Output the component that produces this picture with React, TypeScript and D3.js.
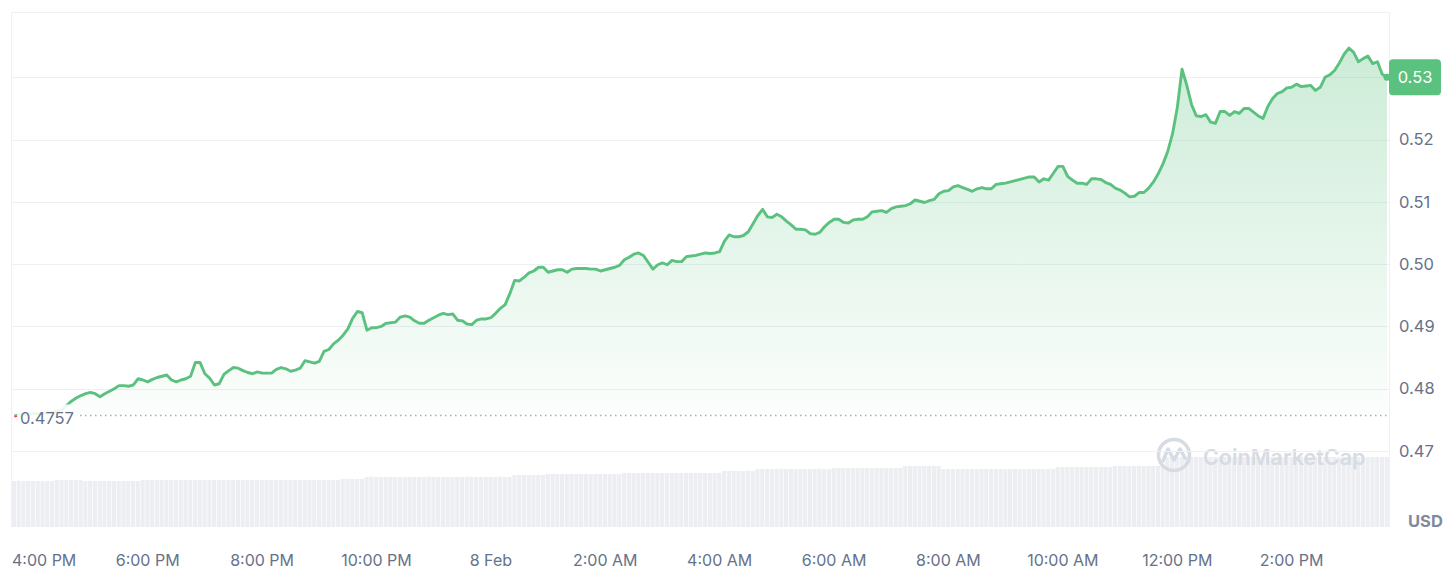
import { useEffect, useRef } from 'react';
import * as d3 from 'd3';

// 5-minute price samples, 7 Feb 15:40 -> 8 Feb 15:40
const startTime = new Date(2025, 1, 7, 15, 40);
const stepMinutes = 5;
const openPrice = 0.4757;

const prices = [
  0.4756, 0.4758, 0.4759, 0.4759, 0.4760, 0.4760, 0.4761, 0.4761, 0.4762, 0.4764, 0.4766, 0.4773,
  0.4780, 0.4785, 0.4789, 0.4792, 0.4794, 0.4792, 0.4787, 0.4792, 0.4796, 0.4800, 0.4805, 0.4805,
  0.4804, 0.4806, 0.4816, 0.4814, 0.4811, 0.4815, 0.4818, 0.4820, 0.4822, 0.4814, 0.4811, 0.4814,
  0.4816, 0.4820, 0.4842, 0.4842, 0.4824, 0.4817, 0.4806, 0.4808, 0.4823, 0.4829, 0.4834, 0.4833,
  0.4829, 0.4826, 0.4824, 0.4827, 0.4825, 0.4825, 0.4825, 0.4831, 0.4834, 0.4832, 0.4828, 0.4830,
  0.4833, 0.4845, 0.4843, 0.4841, 0.4844, 0.4860, 0.4863, 0.4872, 0.4878, 0.4886, 0.4896, 0.4913,
  0.4924, 0.4922, 0.4894, 0.4898, 0.4898, 0.4900, 0.4905, 0.4906, 0.4907, 0.4915, 0.4917, 0.4915,
  0.4909, 0.4905, 0.4905, 0.4910, 0.4914, 0.4918, 0.4921, 0.4919, 0.4920, 0.4910, 0.4909, 0.4904,
  0.4903, 0.4910, 0.4912, 0.4912, 0.4914, 0.4921, 0.4929, 0.4935, 0.4953, 0.4974, 0.4973, 0.4979,
  0.4986, 0.4989, 0.4995, 0.4995, 0.4987, 0.4989, 0.4991, 0.4991, 0.4987, 0.4992, 0.4993, 0.4993,
  0.4993, 0.4992, 0.4992, 0.4989, 0.4991, 0.4993, 0.4995, 0.4998, 0.5007, 0.5011, 0.5016, 0.5018,
  0.5014, 0.5003, 0.4992, 0.4999, 0.5002, 0.4999, 0.5006, 0.5004, 0.5004, 0.5012, 0.5013, 0.5014,
  0.5016, 0.5018, 0.5017, 0.5018, 0.5020, 0.5037, 0.5047, 0.5044, 0.5044, 0.5046, 0.5052, 0.5065,
  0.5078, 0.5088, 0.5076, 0.5075, 0.5080, 0.5076, 0.5069, 0.5063, 0.5056, 0.5056, 0.5055, 0.5049,
  0.5048, 0.5051, 0.5060, 0.5067, 0.5072, 0.5072, 0.5067, 0.5066, 0.5071, 0.5072, 0.5072, 0.5076,
  0.5084, 0.5085, 0.5086, 0.5083, 0.5089, 0.5092, 0.5093, 0.5094, 0.5097, 0.5103, 0.5101, 0.5099,
  0.5102, 0.5104, 0.5113, 0.5117, 0.5118, 0.5124, 0.5126, 0.5123, 0.5120, 0.5117, 0.5121, 0.5123,
  0.5121, 0.5121, 0.5128, 0.5129, 0.5130, 0.5132, 0.5134, 0.5136, 0.5138, 0.5140, 0.5140, 0.5132,
  0.5137, 0.5135, 0.5146, 0.5157, 0.5157, 0.5141, 0.5135, 0.5130, 0.5130, 0.5128, 0.5137, 0.5137,
  0.5136, 0.5131, 0.5128, 0.5122, 0.5119, 0.5114, 0.5108, 0.5109, 0.5115, 0.5115, 0.5122, 0.5132,
  0.5145, 0.5161, 0.5181, 0.5209, 0.5251, 0.5313, 0.5287, 0.5256, 0.5238, 0.5237, 0.5240, 0.5228,
  0.5226, 0.5245, 0.5245, 0.5239, 0.5245, 0.5242, 0.5250, 0.5250, 0.5244, 0.5238, 0.5234, 0.5253,
  0.5266, 0.5274, 0.5277, 0.5283, 0.5284, 0.5289, 0.5285, 0.5286, 0.5287, 0.5279, 0.5284, 0.5300,
  0.5304, 0.5311, 0.5323, 0.5337, 0.5347, 0.5340, 0.5325, 0.5330, 0.5334, 0.5322, 0.5325, 0.5305,
  0.5300,
];

// volume per sample (relative units)
const volumes = [
  46, 46.2, 45.9, 46, 46.1, 46, 45.8, 46, 46.1, 47, 47.2, 47,
  47, 47.1, 46.9, 46, 46.2, 46, 45.9, 46, 46.1, 46, 45.8, 46,
  46, 46.1, 46, 47, 47.2, 47, 46.9, 47, 47.1, 47, 47, 46.9,
  47, 47.1, 47, 47, 46.8, 47, 47.2, 47, 47, 46.9, 47, 47.1,
  47, 47, 46.9, 47, 47.2, 47, 47, 47.1, 46.9, 47, 47, 47.1,
  47, 46.9, 47, 47.1, 47, 47, 46.8, 47, 47, 48, 48.2, 48,
  48.1, 48, 50, 50.2, 50, 49.9, 50, 50.1, 50, 50, 49.8, 50,
  50.1, 50, 50, 50.2, 49.9, 50, 50, 50.1, 50, 49.9, 50, 50.2,
  50, 50, 49.9, 50.1, 50, 50, 50.2, 50, 49.9, 52, 52.1, 52,
  51.9, 52, 52.2, 52, 53, 53.1, 53, 52.9, 53, 53.2, 53, 53,
  53.1, 53, 52.9, 53, 53, 53.1, 53, 53, 54, 54.1, 54, 53.9,
  54, 54.2, 54, 54, 53.9, 54, 54.1, 54, 54, 54.2, 54, 53.9,
  54, 54.1, 54, 54, 54.2, 56, 56.1, 56, 55.9, 56, 56.2, 56,
  58, 58.1, 58, 57.9, 58, 58.2, 58, 58, 57.9, 58, 58.1, 58,
  58, 58.2, 58, 57.9, 59, 59.1, 59, 59, 58.9, 59, 59.2, 59,
  59, 59.1, 59, 58.9, 59, 59.2, 59, 61, 61.1, 61, 60.9, 61,
  61.2, 61, 61, 58, 58.1, 58, 57.9, 58, 58.2, 58, 58, 57.9,
  58, 58.1, 58, 58, 57.9, 58, 58.2, 58, 58, 58.1, 58, 57.9,
  58, 58.1, 58, 60, 60.1, 60, 59.9, 60, 60.2, 60, 60, 59.9,
  60, 60.1, 60, 61, 61.1, 61, 60.9, 61, 61.2, 61, 61, 60.9,
  61, 61.1, 70, 70.1, 70, 69.9, 70, 70.2, 70, 70, 69.9, 70,
  70.1, 70, 70, 70.2, 69.9, 70, 70, 70.1, 70, 69.9, 70, 70.2,
  70, 70, 69.9, 70.1, 70, 70, 70.2, 70, 69.9, 70, 70.1, 70,
  70, 70.2, 70, 69.9, 70, 70.1, 70, 70, 69.9, 70, 70.2, 70,
  70,
];

const yTicks = [0.47, 0.48, 0.49, 0.50, 0.51, 0.52, 0.53];
const xTickTimes = [
  "2025-02-07T16:00", "2025-02-07T18:00", "2025-02-07T20:00", "2025-02-07T22:00",
  "2025-02-08T00:00", "2025-02-08T02:00", "2025-02-08T04:00", "2025-02-08T06:00",
  "2025-02-08T08:00", "2025-02-08T10:00", "2025-02-08T12:00", "2025-02-08T14:00",
];
const xTickLabels = [
  "4:00 PM", "6:00 PM", "8:00 PM", "10:00 PM", "8 Feb", "2:00 AM",
  "4:00 AM", "6:00 AM", "8:00 AM", "10:00 AM", "12:00 PM", "2:00 PM",
];

type Point = { date: Date; price: number; volume: number };

const GREEN = "#5bc17f";
const RED = "#ea3943";
const TEXT = "#66728a";

export default function App() {
  const svgRef = useRef<SVGSVGElement>(null);

  useEffect(() => {
    if (!svgRef.current) return;
    const svg = d3.select(svgRef.current);
    svg.selectAll("*").remove();

    const width = 1454;
    const height = 582;
    const plot = { left: 11.5, right: 1389.5, top: 12.5, bottom: 527 };

    const data: Point[] = prices.map((p, i) => ({
      date: d3.timeMinute.offset(startTime, i * stepMinutes),
      price: p,
      volume: volumes[i] ?? 0,
    }));

    const x = d3.scaleTime()
      .domain(d3.extent(data, d => d.date) as [Date, Date])
      .range([14.2, 1387]);
    const y = d3.scaleLinear().domain([0.47, 0.53]).range([451, 77.3]);
    const yVol = d3.scaleLinear().domain([0, 80]).range([plot.bottom, plot.bottom - 80]);
    const step = x(data[1].date) - x(data[0].date);
    const baseY = y(openPrice);

    svg.attr("width", width).attr("height", height)
      .style("font-family", "Inter, 'Noto Sans', sans-serif");

    const defs = svg.append("defs");
    const grad = defs.append("linearGradient")
      .attr("id", "areaGrad")
      .attr("gradientUnits", "userSpaceOnUse")
      .attr("x1", 0).attr("x2", 0)
      .attr("y1", plot.top).attr("y2", baseY);
    grad.append("stop").attr("offset", "0%").attr("stop-color", GREEN).attr("stop-opacity", 0.34);
    grad.append("stop").attr("offset", "100%").attr("stop-color", GREEN).attr("stop-opacity", 0.02);
    defs.append("clipPath").attr("id", "clipUp")
      .append("rect").attr("x", 0).attr("y", 0).attr("width", width).attr("height", baseY);
    defs.append("clipPath").attr("id", "clipDown")
      .append("rect").attr("x", 0).attr("y", baseY).attr("width", width).attr("height", height - baseY);

    svg.append("rect").attr("width", width).attr("height", height).attr("fill", "#fff");

    // volume bars
    svg.append("g").selectAll("rect")
      .data(data)
      .join("rect")
      .attr("x", d => x(d.date) - step / 2)
      .attr("y", d => yVol(d.volume))
      .attr("width", step - 0.6)
      .attr("height", d => plot.bottom - yVol(d.volume))
      .attr("fill", "#eceef2");

    // watermark
    const wm = svg.append("g").attr("fill", "none").attr("stroke", "#d7dbe3");
    wm.append("circle").attr("cx", 1174).attr("cy", 455).attr("r", 15.5).attr("stroke-width", 3.5);
    wm.append("path")
      .attr("d", "M1163,461 L1168,449 L1174,460 L1180,449 L1185,458")
      .attr("stroke-width", 3.5)
      .attr("stroke-linecap", "round")
      .attr("stroke-linejoin", "round");
    svg.append("text")
      .attr("x", 1203).attr("y", 457).attr("dy", "0.35em")
      .style("font-size", "21.5px").style("font-weight", 600)
      .attr("fill", "#d7dbe3")
      .text("CoinMarketCap");

    // grid + frame
    const grid = svg.append("g").attr("stroke", "#eef0f3").attr("stroke-width", 1);
    grid.selectAll("line.h")
      .data(yTicks)
      .join("line")
      .attr("class", "h")
      .attr("x1", plot.left).attr("x2", plot.right)
      .attr("y1", d => Math.round(y(d)) + 0.5)
      .attr("y2", d => Math.round(y(d)) + 0.5);
    grid.append("line").attr("x1", plot.left).attr("x2", plot.right).attr("y1", plot.top).attr("y2", plot.top);
    grid.append("line").attr("x1", plot.left).attr("x2", plot.left).attr("y1", plot.top).attr("y2", plot.bottom);
    grid.append("line").attr("x1", plot.right).attr("x2", plot.right).attr("y1", plot.top).attr("y2", plot.bottom);

    // area
    const area = d3.area<Point>()
      .x(d => x(d.date))
      .y0(baseY)
      .y1(d => y(d.price));
    svg.append("path")
      .datum(data)
      .attr("d", area)
      .attr("fill", "url(#areaGrad)")
      .attr("clip-path", "url(#clipUp)");

    // open price dotted line
    svg.append("line")
      .attr("x1", 80).attr("x2", plot.right)
      .attr("y1", baseY).attr("y2", baseY)
      .attr("stroke", "#a3abbc")
      .attr("stroke-width", 1.5)
      .attr("stroke-dasharray", "1.5 3.5");

    const line = d3.line<Point>()
      .x(d => x(d.date))
      .y(d => y(d.price));
    svg.append("path").datum(data)
      .attr("d", line)
      .attr("fill", "none")
      .attr("stroke", GREEN)
      .attr("stroke-width", 2.9)
      .attr("stroke-linejoin", "round")
      .attr("clip-path", "url(#clipUp)");
    svg.append("path").datum(data)
      .attr("d", line)
      .attr("fill", "none")
      .attr("stroke", RED)
      .attr("stroke-width", 2.9)
      .attr("stroke-linejoin", "round")
      .attr("clip-path", "url(#clipDown)");

    // open price label
    svg.append("rect")
      .attr("x", 17).attr("y", baseY - 11)
      .attr("width", 56).attr("height", 24)
      .attr("fill", "#fff").attr("opacity", 0.88);
    svg.append("text")
      .attr("x", 20).attr("y", baseY + 2.5).attr("dy", "0.35em")
      .style("font-size", "16.5px")
      .attr("fill", TEXT)
      .text(openPrice.toFixed(4));

    // y labels
    svg.append("g").selectAll("text")
      .data(yTicks)
      .join("text")
      .attr("x", 1399)
      .attr("y", d => y(d))
      .attr("dy", "0.35em")
      .style("font-size", "16.5px")
      .attr("fill", TEXT)
      .text(d => d.toFixed(2));

    // last price marker + badge
    const last = data[data.length - 1];
    svg.append("circle")
      .attr("cx", x(last.date)).attr("cy", y(last.price))
      .attr("r", 3.5).attr("fill", GREEN);
    svg.append("rect")
      .attr("x", 1389).attr("y", y(last.price) - 18)
      .attr("width", 52).attr("height", 36).attr("rx", 4)
      .attr("fill", GREEN);
    svg.append("text")
      .attr("x", 1415).attr("y", y(last.price)).attr("dy", "0.35em")
      .attr("text-anchor", "middle")
      .style("font-size", "16.5px")
      .attr("fill", "#fff")
      .text(last.price.toFixed(2));

    // x labels
    const xl = svg.append("g").selectAll<SVGTextElement, string>("text")
      .data(xTickTimes)
      .join("text")
      .attr("x", d => x(new Date(d)))
      .attr("y", 560)
      .attr("dy", "0.35em")
      .attr("text-anchor", "middle")
      .style("font-size", "16px")
      .attr("fill", TEXT)
      .text((_, i) => xTickLabels[i]);
    xl.each(function () {
      const bb = this.getBBox();
      if (bb.x < 12) d3.select(this).attr("text-anchor", "start").attr("x", 12);
    });

    svg.append("text")
      .attr("x", 1408).attr("y", 521).attr("dy", "0.35em")
      .style("font-size", "16.5px").style("font-weight", 700)
      .attr("fill", "#808a9d")
      .text("USD");
  }, []);

  return <svg ref={svgRef} style={{ position: 'absolute', left: 0, top: 0 }}></svg>;
}
